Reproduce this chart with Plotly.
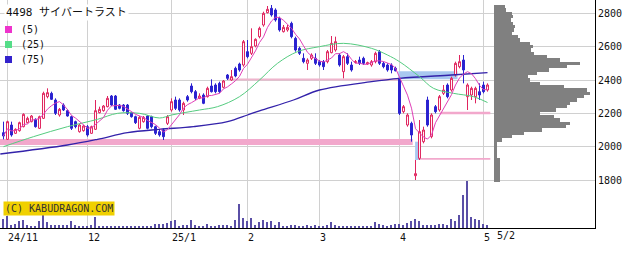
import plotly.graph_objects as go
import pandas as pd

# ---------------- data ----------------
idx = list(range(122))  # trading days 2024-10-31 .. 2025-05-02

opens = [2084,2044,2130,2080,2096,2120,2144,2150,2164,2110,
         2170,2300,2320,2280,2190,2250,2216,2180,2150,2090,
         2096,2120,2080,2104,2204,2216,2240,2304,2304,2250,
         2250,2250,2204,2180,2110,2150,2184,2180,2120,2090,
         2100,2140,2220,2280,2280,2220,2300,2364,2330,2290,
         2310,2300,2364,2370,2380,2356,2430,2400,2470,2496,
         2490,2570,2560,2604,2660,2730,2804,2830,2820,2770,
         2690,2700,2740,2650,2590,2530,2500,2530,2530,2510,
         2510,2510,2564,2580,2550,2450,2540,2490,2505,2520,
         2530,2496,2490,2510,2570,2500,2490,2490,2470,2410,
         2210,2130,2140,1826,1930,2030,2280,2060,2240,2220,
         2320,2370,2340,2430,2480,2520,2300,2310,2300,2330,
         2370,2340]
highs = [2150,2156,2150,2110,2150,2200,2180,2190,2170,2186,
         2330,2350,2330,2290,2232,2260,2224,2186,2156,2136,
         2130,2130,2126,2280,2240,2250,2304,2310,2310,2256,
         2256,2256,2210,2186,2184,2184,2190,2186,2126,2100,
         2110,2190,2290,2300,2290,2270,2310,2380,2340,2320,
         2320,2360,2404,2380,2390,2400,2436,2460,2480,2504,
         2640,2640,2710,2650,2720,2810,2844,2850,2830,2780,
         2730,2730,2750,2660,2600,2560,2530,2560,2560,2520,
         2520,2580,2664,2660,2560,2550,2560,2510,2520,2540,
         2540,2510,2520,2570,2580,2510,2500,2500,2480,2410,
         2250,2200,2150,1920,2160,2120,2300,2200,2250,2310,
         2370,2380,2420,2510,2550,2550,2380,2360,2360,2380,
         2390,2380]
lows = [2044,2040,2060,2076,2090,2116,2140,2146,2114,2106,
        2166,2290,2280,2190,2180,2214,2180,2100,2110,2084,
        2090,2060,2076,2100,2200,2210,2236,2244,2220,2224,
        2210,2190,2174,2136,2104,2144,2104,2110,2070,2060,
        2040,2130,2210,2220,2210,2190,2270,2320,2280,2285,
        2255,2295,2325,2320,2320,2350,2400,2395,2416,2450,
        2480,2530,2550,2596,2650,2720,2800,2780,2750,2690,
        2685,2690,2650,2570,2550,2500,2460,2520,2490,2480,
        2460,2500,2560,2570,2480,2410,2490,2450,2500,2490,
        2490,2490,2480,2500,2490,2470,2450,2440,2452,2190,
        2200,2120,2030,1800,1920,2020,2120,2050,2200,2210,
        2310,2290,2330,2420,2470,2380,2220,2280,2260,2280,
        2320,2330]
closes = [2064,2150,2070,2104,2144,2194,2170,2184,2120,2180,
          2320,2324,2284,2200,2224,2220,2184,2110,2120,2130,
          2124,2070,2120,2216,2224,2244,2290,2250,2224,2230,
          2216,2200,2180,2144,2176,2176,2110,2120,2080,2070,
          2060,2180,2270,2230,2220,2260,2280,2330,2290,2304,
          2260,2350,2330,2330,2330,2394,2410,2420,2424,2460,
          2630,2540,2600,2644,2710,2800,2824,2790,2760,2700,
          2716,2716,2660,2580,2560,2510,2520,2550,2500,2490,
          2480,2570,2620,2630,2490,2540,2500,2460,2510,2500,
          2500,2504,2510,2560,2500,2480,2460,2460,2455,2200,
          2240,2190,2070,1838,2090,2100,2130,2190,2210,2300,
          2340,2300,2410,2500,2510,2460,2370,2350,2350,2310,
          2330,2370]
volumes = [90,120,30,40,70,80,30,20,20,70,
           140,60,30,30,30,30,30,70,30,20,
           20,20,30,110,20,20,20,20,15,15,
           15,15,15,15,20,20,20,25,40,40,
           40,50,70,80,20,30,30,80,30,20,
           20,40,20,20,30,30,30,20,80,240,
           100,70,100,30,60,80,60,70,30,60,
           20,15,30,30,20,15,30,15,30,20,
           20,30,60,30,20,20,15,15,20,20,
           15,20,15,60,40,30,20,30,40,40,
           30,50,70,90,70,30,30,30,30,40,
           40,30,90,70,130,330,470,110,90,80,
           40,30]

ma25_idx = [0, 7.5, 16, 23.5, 28.5, 34, 39, 42, 49, 53.5, 59, 64, 68.5, 73.5,
            79, 85, 92, 96, 99, 104, 107.5, 112.5, 117.5, 121]
ma25_val = [2000, 2060, 2120, 2164, 2200, 2200, 2172, 2190, 2220, 2240, 2300, 2400,
            2500, 2570, 2600, 2620, 2590, 2550, 2510, 2420, 2350, 2320, 2300, 2265]
ma75_idx = [-0.8, 16, 23.5, 31, 39, 47.5, 56, 61, 64, 72.5, 79, 92, 99, 112, 121]
ma75_val = [1956, 2010, 2044, 2084, 2104, 2120, 2150, 2190, 2215, 2280, 2340,
            2390, 2410, 2430, 2444]

month_idx = [1, 21, 42, 61, 79, 99, 120]
month_lbl = ["24/11", "12", "25/1", "2", "3", "4", "5"]
price_ticks = [1800, 2000, 2200, 2400, 2600, 2800]

prof_price = [2840,2820,2800,2780,2760,2740,2720,2700,2680,2660,2640,2620,2600,
              2580,2560,2540,2520,2500,2480,2460,2440,2420,2400,2380,2360,2340,
              2320,2300,2280,2260,2240,2220,2200,2180,2160,2140,2120,2100,2080,
              2060,2040,2020,2000,1980,1960,1940,1920,1900,1880,1860,1840,1820,1800]
prof_vol = [11,12,18,19,17,19,21,20,18,24,26,36,39,
            37,40,53,66,86,73,55,43,34,36,46,70,93,
            96,90,83,76,73,62,46,60,66,76,72,48,30,
            18,8,3,3,3,3,3,6,6,6,6,6,6,6]

last_price = 2360

# ---------------- figure ----------------
ma5 = pd.Series(closes).rolling(5, min_periods=1).mean().tolist()

W, H = 640, 254
PW, PH = 595, 228
def px(xp):
    return xp / PW
def py(yp):
    return 1 - yp / PH

mono = "DejaVu Sans Mono, Liberation Mono, monospace"

fig = go.Figure()

fig.add_trace(go.Bar(x=idx, y=volumes, yaxis="y2", width=0.3,
                     marker=dict(color="#5a4fa6", line=dict(width=0)),
                     hoverinfo="skip", showlegend=False))

fig.add_trace(go.Candlestick(
    x=idx, open=opens, high=highs, low=lows, close=closes,
    increasing=dict(line=dict(color="#e0245e", width=1), fillcolor="#ffffff"),
    decreasing=dict(line=dict(color="#2b22d0", width=1), fillcolor="#2b22d0"),
    whiskerwidth=0, showlegend=False))

fig.add_trace(go.Scatter(x=ma75_idx, y=ma75_val, mode="lines",
                         line=dict(color="#3322aa", width=1.3, shape="spline"),
                         showlegend=False, hoverinfo="skip"))
fig.add_trace(go.Scatter(x=ma25_idx, y=ma25_val, mode="lines",
                         line=dict(color="#55cc80", width=1, shape="spline"),
                         showlegend=False, hoverinfo="skip"))
fig.add_trace(go.Scatter(x=idx, y=ma5, mode="lines",
                         line=dict(color="#e040b8", width=1),
                         showlegend=False, hoverinfo="skip"))

fig.add_trace(go.Bar(y=prof_price, x=prof_vol, orientation="h", width=20,
                     xaxis="x2", yaxis="y", marker=dict(color="#808080", line=dict(width=0)),
                     showlegend=False, hoverinfo="skip"))
fig.add_trace(go.Scatter(x=[-0.5], y=[last_price], xaxis="x2", yaxis="y", mode="markers",
                         marker=dict(symbol="triangle-left", size=9, color="#ee1111",
                                     line=dict(color="#990000", width=1)),
                         cliponaxis=False, showlegend=False, hoverinfo="skip"))

pink = "#f2a8cc"
lblue = "#a9c8f0"
shapes = [
    dict(type="rect", xref="x", yref="y", x0=-0.9, x1=102.3, y0=2010, y1=2046,
         fillcolor=pink, line=dict(width=0), layer="between"),
    dict(type="rect", xref="x", yref="y", x0=56, x1=99, y0=2397, y1=2409,
         fillcolor="#eeb4cc", line=dict(width=0), layer="between"),
    dict(type="rect", xref="x", yref="y", x0=98.7, x1=113.5, y0=2405, y1=2452,
         fillcolor=lblue, line=dict(width=0), layer="between"),
    dict(type="rect", xref="x", yref="y", x0=102.9, x1=104.0, y0=1920, y1=2030,
         fillcolor=lblue, line=dict(width=0), layer="between"),
    dict(type="rect", xref="x", yref="y", x0=109.2, x1=121.7, y0=2194, y1=2210,
         fillcolor=pink, line=dict(width=0), layer="between"),
    dict(type="rect", xref="x", yref="y", x0=103.8, x1=121.7, y0=1922, y1=1932,
         fillcolor=pink, line=dict(width=0), layer="between"),
    # white legend backdrop
    dict(type="rect", xref="paper", yref="paper", x0=0, x1=px(42), y0=py(66), y1=1,
         fillcolor="#ffffff", line=dict(width=0), layer="between"),
]
leg = [("(5)", "#ee33cc", 29.5), ("(25)", "#55dd88", 44.5), ("(75)", "#3322cc", 59.5)]
annotations = [
    dict(text="4498 サイバートラスト", x=px(4), y=py(13), xref="paper", yref="paper",
         xanchor="left", yanchor="middle", showarrow=False, bgcolor="#ffffff",
         font=dict(family="DejaVu Sans Mono, Noto Sans CJK JP", size=11, color="#111")),
    dict(text="(C) KABUDRAGON.COM", x=px(3), y=py(208), xref="paper", yref="paper",
         xanchor="left", yanchor="middle", showarrow=False, bgcolor="#f0d000", borderpad=1,
         font=dict(family=mono, size=10, color="#333")),
    dict(text="5/2", x=px(495), y=py(235), xref="paper", yref="paper",
         xanchor="left", yanchor="middle", showarrow=False,
         font=dict(family=mono, size=10, color="#111")),
]
for t, c, yc in leg:
    shapes.append(dict(type="rect", xref="paper", yref="paper", x0=px(5), x1=px(12),
                       y0=py(yc + 3.5), y1=py(yc - 3.5), fillcolor=c, line=dict(width=0),
                       layer="above"))
    annotations.append(dict(text=t, x=px(19), y=py(yc), xref="paper", yref="paper",
                            xanchor="left", yanchor="middle", showarrow=False,
                            font=dict(family=mono, size=10, color="#111")))

fig.update_layout(
    width=W, height=H, margin=dict(l=0, r=W - PW, t=0, b=H - PH),
    paper_bgcolor="#ffffff", plot_bgcolor="rgba(0,0,0,0)",
    showlegend=False, bargap=0,
    xaxis=dict(domain=[0, 1], range=[-0.875, 147.875], tickvals=month_idx, ticktext=month_lbl,
               ticklabelposition="outside right", ticks="", showgrid=True,
               gridcolor="#d0d0d0", gridwidth=1, zeroline=False, showline=True,
               linecolor="#000000", linewidth=1, rangeslider=dict(visible=False),
               tickfont=dict(family=mono, size=10, color="#111")),
    xaxis2=dict(domain=[494 / PW, 1], range=[0, 101], anchor="y", visible=False),
    yaxis=dict(range=[1512, 2880], side="right", tickvals=price_ticks,
               ticktext=[str(v) for v in price_ticks], ticks="", showgrid=True,
               gridcolor="#d0d0d0", gridwidth=1, zeroline=False, showline=True,
               linecolor="#000000", linewidth=1,
               tickfont=dict(family=mono, size=10, color="#111")),
    yaxis2=dict(overlaying="y", range=[0, 2280], visible=False),
    shapes=shapes, annotations=annotations,
)

fig.write_html("out.html")
